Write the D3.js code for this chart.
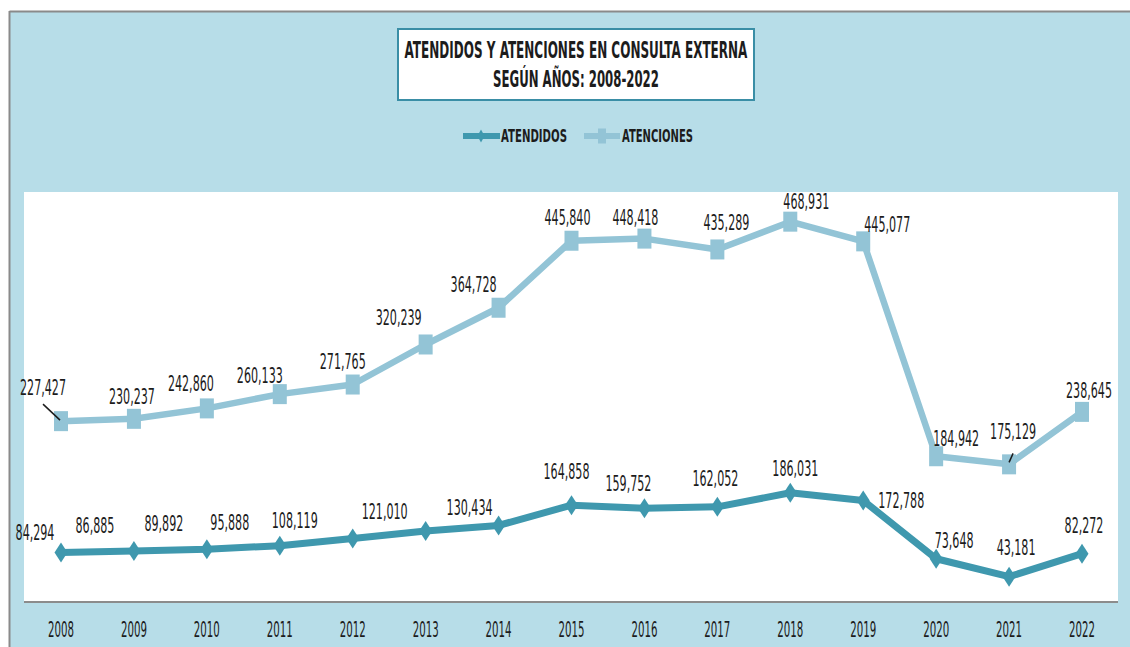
<!DOCTYPE html>
<html lang="es">
<head>
<meta charset="UTF-8">
<title>Atendidos y atenciones</title>
<style>
  html, body { margin: 0; padding: 0; background: #fff; }
  svg { display: block; }
</style>
</head>
<body>
<svg id="chart" width="1130" height="647"></svg>
<script src="https://cdn.jsdelivr.net/npm/d3@7"></script>
<script>
// data
var years = ["2008","2009","2010","2011","2012","2013","2014","2015","2016","2017","2018","2019","2020","2021","2022"];
var atendidos = [84294, 86885, 89892, 95888, 108119, 121010, 130434, 164858, 159752, 162052, 186031, 172788, 73648, 43181, 82272];
var atenciones = [227427, 230237, 242860, 260133, 271765, 320239, 364728, 445840, 448418, 435289, 468931, 445077, 184942, 175129, 238645];

// label offsets from the marker (dx, dy to text baseline centre), as placed in the picture
var atendidosLabelOff = [[-26,-13],[-39,-18],[-43,-18],[-50,-16],[-58,-11],[-41,-12],[-29,-10],[-5,-26],[-16,-17],[-2,-21],[5,-17],[38,7],[18,-11],[7,-22],[2,-21]];
var atencionesLabelOff = [[-18,-26],[-2,-15],[-16,-17],[-20,-11],[-10,-16],[-27,-19],[-25,-16],[-4,-16],[-9,-14],[9,-19],[16,-13],[24,-9],[20,-10],[4,-25],[7,-14]];

var blueDark = "#3f98ae", blueLight = "#93c4d6", bg = "#b7dde8", ink = "#1c1c1c";
var fontNarrow = "'Liberation Sans Narrow', 'DejaVu Sans Condensed', 'Liberation Sans', sans-serif";

var svg = d3.select("#chart");

// panel
svg.append("rect").attr("x", 10).attr("y", 12).attr("width", 1120).attr("height", 635).attr("fill", bg);
svg.append("line").attr("x1", 9.5).attr("x2", 1130).attr("y1", 11.5).attr("y2", 11.5).attr("stroke", "#8a8a8a").attr("stroke-width", 2);
svg.append("line").attr("x1", 9.5).attr("x2", 9.5).attr("y1", 11).attr("y2", 647).attr("stroke", "#8a8a8a").attr("stroke-width", 2);

// plot area
var plot = {left: 24, right: 1118, top: 192, bottom: 602};
svg.append("rect").attr("x", plot.left).attr("y", plot.top)
   .attr("width", plot.right - plot.left).attr("height", plot.bottom - plot.top).attr("fill", "#fff");
svg.append("line").attr("x1", plot.left).attr("x2", plot.right).attr("y1", plot.bottom).attr("y2", plot.bottom)
   .attr("stroke", "#8c8c8c").attr("stroke-width", 2);

// scales
var x = d3.scalePoint().domain(years).range([61, 1082]);
var yAtendidos = d3.scaleLinear().domain([0, 700000]).range([plot.bottom, plot.top - 1]);
var yAtenciones = d3.scaleLinear().domain([0, 500000]).range([609, 196]);

// squeezed text helper: text drawn at origin, then translated and scaled horizontally
function squeezeText(g, str, cx, by, size, k, weight) {
  return g.append("text")
    .attr("text-anchor", "middle")
    .attr("font-family", fontNarrow)
    .attr("font-size", size)
    .attr("font-weight", weight || "normal")
    .attr("fill", ink)
    .attr("transform", "translate(" + cx + "," + by + ") scale(" + k + ",1)")
    .text(str);
}
function widthScale(str, size, target, weight) {
  var t = svg.append("text").attr("font-family", fontNarrow).attr("font-size", size)
    .attr("font-weight", weight || "normal").text(str);
  var w = t.node().getComputedTextLength();
  t.remove();
  return target / w;
}

// title box
svg.append("rect").attr("x", 398).attr("y", 29).attr("width", 356).attr("height", 71)
   .attr("fill", "#fff").attr("stroke", "#3a8ea6").attr("stroke-width", 2);
var titleG = svg.append("g");
var kT1 = widthScale("ATENDIDOS Y ATENCIONES EN CONSULTA EXTERNA", 23, 343, "bold");
squeezeText(titleG, "ATENDIDOS Y ATENCIONES EN CONSULTA EXTERNA", 576, 58, 23, kT1, "bold");
var kT2 = widthScale("SEGÚN AÑOS: 2008-2022", 23, 166, "bold");
squeezeText(titleG, "SEGÚN AÑOS: 2008-2022", 576, 87, 23, kT2, "bold");

// legend
var lg = svg.append("g");
lg.append("line").attr("x1", 463).attr("x2", 500).attr("y1", 136).attr("y2", 136).attr("stroke", blueDark).attr("stroke-width", 6);
lg.append("path").attr("d", "M481,129.5L484.5,136L481,142.5L477.5,136Z").attr("fill", blueDark);
lg.append("line").attr("x1", 584).attr("x2", 620).attr("y1", 136).attr("y2", 136).attr("stroke", blueLight).attr("stroke-width", 6);
lg.append("rect").attr("x", 598).attr("y", 128.5).attr("width", 8).attr("height", 15).attr("fill", blueLight);
var kL1 = widthScale("ATENDIDOS", 17, 66, "bold");
squeezeText(lg, "ATENDIDOS", 534, 142, 17, kL1, "bold");
var kL2 = widthScale("ATENCIONES", 17, 71, "bold");
squeezeText(lg, "ATENCIONES", 657.5, 142, 17, kL2, "bold");

// x axis labels
var kTick = widthScale("2008", 21, 26);
var axisG = svg.append("g");
years.forEach(function(yr) { squeezeText(axisG, yr, x(yr), 637, 21, kTick); });

// lines
var lineAtenciones = d3.line().x(function(d, i) { return x(years[i]); }).y(function(d) { return yAtenciones(d); });
var lineAtendidos = d3.line().x(function(d, i) { return x(years[i]); }).y(function(d) { return yAtendidos(d); });

svg.append("path").datum(atenciones).attr("d", lineAtenciones)
   .attr("fill", "none").attr("stroke", blueLight).attr("stroke-width", 6.5).attr("stroke-linejoin", "round");
svg.append("path").datum(atendidos).attr("d", lineAtendidos)
   .attr("fill", "none").attr("stroke", blueDark).attr("stroke-width", 7).attr("stroke-linejoin", "round");

// markers
svg.append("g").selectAll("rect").data(atenciones).join("rect")
   .attr("x", function(d, i) { return x(years[i]) - 7; })
   .attr("y", function(d) { return yAtenciones(d) - 10; })
   .attr("width", 14).attr("height", 20).attr("fill", blueLight);
svg.append("g").selectAll("path").data(atendidos).join("path")
   .attr("d", function(d, i) {
     var cx = x(years[i]), cy = yAtendidos(d);
     return "M" + cx + "," + (cy - 10) + "L" + (cx + 6.5) + "," + cy + "L" + cx + "," + (cy + 10) + "L" + (cx - 6.5) + "," + cy + "Z";
   })
   .attr("fill", blueDark);

// data labels
var fmt = d3.format(",");
var kLab = widthScale("227,427", 21, 46);
var labG = svg.append("g");
atenciones.forEach(function(v, i) {
  var o = atencionesLabelOff[i];
  squeezeText(labG, fmt(v), x(years[i]) + o[0], yAtenciones(v) + o[1], 21, kLab);
});
atendidos.forEach(function(v, i) {
  var o = atendidosLabelOff[i];
  squeezeText(labG, fmt(v), x(years[i]) + o[0], yAtendidos(v) + o[1], 21, kLab);
});

// leader lines for 2008 and 2021 (atenciones)
var y08 = yAtenciones(atenciones[0]), y21 = yAtenciones(atenciones[13]);
svg.append("line").attr("x1", x("2008") - 18).attr("y1", y08 - 17).attr("x2", x("2008") - 1).attr("y2", y08 - 1)
   .attr("stroke", ink).attr("stroke-width", 1.5);
svg.append("line").attr("x1", x("2021") + 4).attr("y1", y21 - 11).attr("x2", x("2021")).attr("y2", y21 - 2)
   .attr("stroke", ink).attr("stroke-width", 1.5);
</script>
</body>
</html>
